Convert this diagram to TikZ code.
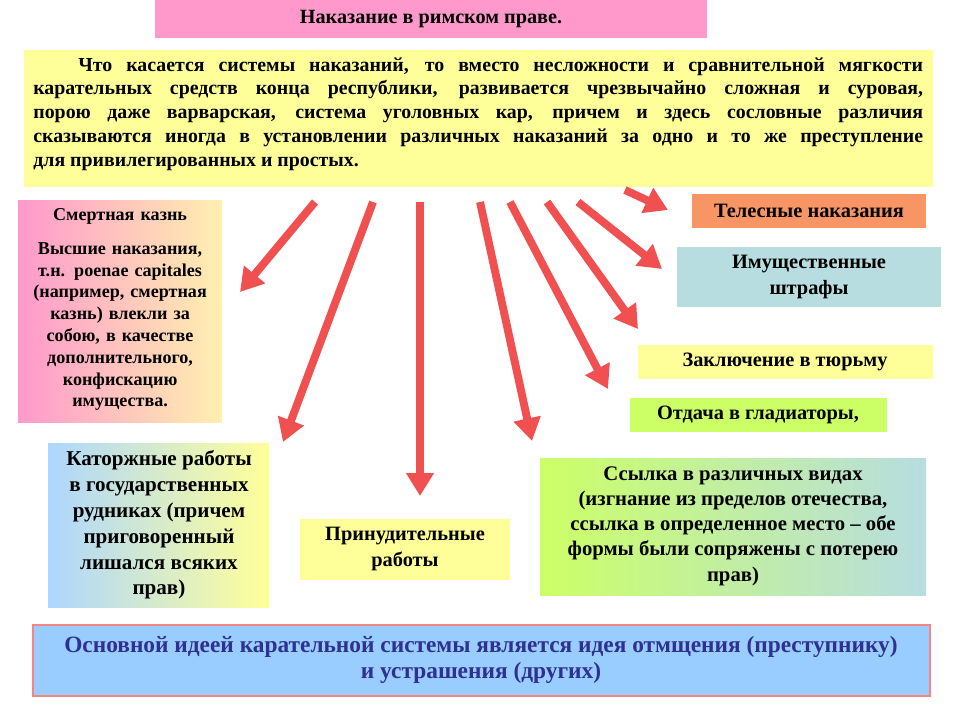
\documentclass[tikz,border=0pt]{standalone}
\usepackage{fontspec}
\setmainfont{Liberation Serif}
\usetikzlibrary{arrows.meta}

\definecolor{arrowred}{HTML}{F05050}
\definecolor{pinkbox}{HTML}{FF99CC}
\definecolor{paleyellow}{HTML}{FFFF99}
\definecolor{orangebox}{HTML}{F79565}
\definecolor{tealbox}{HTML}{B7DDE0}
\definecolor{limebox}{HTML}{CCFF66}
\definecolor{skybox}{HTML}{99CCFF}
\definecolor{navytext}{HTML}{2E3192}

\newcommand\fs[2]{\bfseries\fontsize{#1}{#2}\selectfont}

\begin{document}
\begin{tikzpicture}[
    x=0.02cm, y=-0.02cm,
    every node/.style={inner sep=0pt},
    box/.style={anchor=north west},
    label/.style={font=\fs{11.6}{14.4}, align=center},
    punish/.style={line width=4.5pt, arrowred, -{Triangle[width=15pt,length=13pt]}}
]

\useasboundingbox (0,0) rectangle (960,720);

% Title and introduction
\fill[pinkbox] (155,0) rectangle (707,38);
\node[font=\fs{11.5}{13}] (title) at (431,19) {Наказание в римском праве.};

\fill[paleyellow] (24,50) rectangle (933,187);
\node[box, text width=17.8cm, align=justify, font=\fs{11.3}{13.6}] (intro) at (33,57)
  {\hspace*{0.9cm}Что касается системы наказаний, то вместо несложности и сравнительной мягкости\linebreak карательных средств конца республики, развивается чрезвычайно сложная и суровая,\linebreak порою даже варварская, система уголовных кар, причем и здесь сословные различия\linebreak сказываются иногда в установлении различных наказаний за одно и то же преступление\linebreak для привилегированных и простых.};

% Kinds of punishment
\shade[left color=pinkbox, right color=paleyellow!80!orange!60] (18,200) rectangle (222,422);
\node[box, text width=3.95cm, align=center, font=\fs{10.3}{12.4}] (death) at (21,208)
  {Смертная казнь\\[7pt]Высшие наказания, т.н. poenae capitales (например, смертная казнь) влекли за собою, в качестве дополнительного, конфискацию имущества.};

\shade[left color=skybox!80, right color=paleyellow] (48,443) rectangle (269,607);
\node[label, font=\fs{12}{14.7}] (katorga) at (159,525)
  {Каторжные работы\\в государственных\\рудниках (причем\\приговоренный\\лишался всяких\\прав)};

\fill[paleyellow] (300,519) rectangle (510,580);
\node[label] (labour) at (405,549) {Принудительные\\работы};

\fill[orangebox] (692,194) rectangle (926,228);
\node[label] (corporal) at (809,211) {Телесные наказания};

\fill[tealbox] (677,247) rectangle (941,307);
\node[label] (fines) at (809,277) {Имущественные\\штрафы};

\fill[paleyellow] (638,345) rectangle (933,379);
\node[label] (prison) at (785,362) {Заключение в тюрьму};

\fill[limebox] (630,398) rectangle (887,432);
\node[label] (gladiators) at (758,415) {Отдача в гладиаторы,};

\shade[left color=limebox, right color=tealbox] (540,458) rectangle (926,595);
\node[label, font=\fs{11.8}{14.4}] (exile) at (733,526)
  {Ссылка в различных видах\\(изгнание из пределов отечества,\\ссылка в определенное место – обе\\формы были сопряжены с потерею\\прав)};

% Main idea
\fill[skybox] (33,625) rectangle (930,696);
\draw[arrowred!70, line width=0.6pt] (33,625) rectangle (930,696);
\node[align=center, text=navytext, font=\fs{13.3}{14.4}] (idea) at (481,660)
  {Основной идеей карательной системы является идея отмщения (преступнику)\\и устрашения (других)};

% Arrows from the introduction
\coordinate (s1) at (315,202);
\coordinate (s2) at (373,202);
\coordinate (s3) at (420,202);
\coordinate (s4) at (480,202);
\coordinate (s5) at (510,202);
\coordinate (s6) at (547,202);
\coordinate (s7) at (578,202);
\coordinate (s8) at (625,190);

\draw[punish] (s1) -- (240,292);
\draw[punish] (s2) -- (283,442);
\draw[punish] (s3) -- (420,496);
\draw[punish] (s4) -- (532,441);
\draw[punish] (s5) -- (608,389);
\draw[punish] (s6) -- (638,329);
\draw[punish] (s7) -- (662,269);
\draw[punish] (s8) -- (668,210);

\end{tikzpicture}
\end{document}
